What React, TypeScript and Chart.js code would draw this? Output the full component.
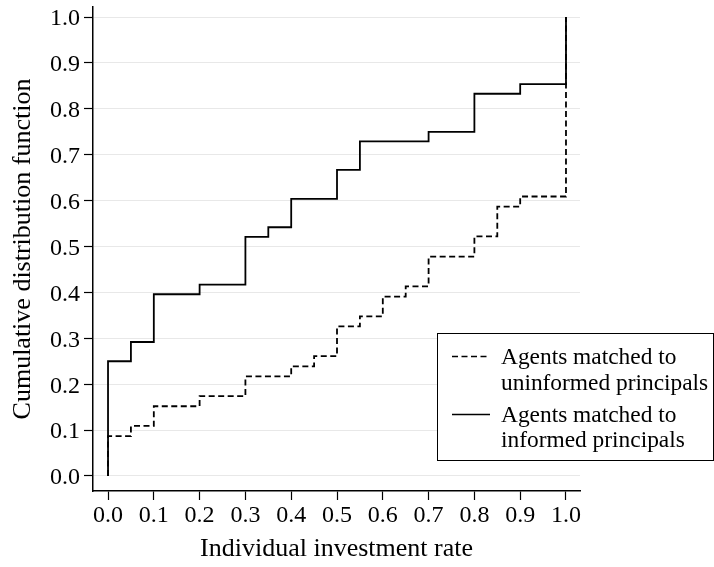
import React, { useEffect, useRef } from "react";
import { Chart, registerables } from "chart.js";

Chart.register(...registerables);

// Empirical CDF steps (investment rate -> cumulative share)
const uninformedX = [0, 0, 0.05, 0.1, 0.2, 0.3, 0.4, 0.45, 0.5, 0.55, 0.6, 0.65, 0.7, 0.8, 0.85, 0.9, 1.0];
const uninformedY = [0, 0.087, 0.109, 0.152, 0.174, 0.217, 0.239, 0.261, 0.326, 0.348, 0.391, 0.413, 0.478, 0.522, 0.587, 0.609, 1.0];

const informedX = [0, 0, 0.05, 0.1, 0.2, 0.3, 0.35, 0.4, 0.5, 0.55, 0.7, 0.8, 0.9, 1.0];
const informedY = [0, 0.25, 0.292, 0.396, 0.417, 0.521, 0.542, 0.604, 0.667, 0.729, 0.75, 0.833, 0.854, 1.0];

const xTickValues = [0, 0.1, 0.2, 0.3, 0.4, 0.5, 0.6, 0.7, 0.8, 0.9, 1.0];
const yTickValues = [0, 0.1, 0.2, 0.3, 0.4, 0.5, 0.6, 0.7, 0.8, 0.9, 1.0];

const seriesLabels = [
  ["Agents matched to", "uninformed principals"],
  ["Agents matched to", "informed principals"],
];

const xTitle = "Individual investment rate";
const yTitle = "Cumulative distribution function";

const FONT = '"Liberation Serif", "Times New Roman", serif';
const DASH = [6, 3.5];

const legendPlugin = {
  id: "boxLegend",
  afterDraw(chart: any) {
    const ctx = chart.ctx;
    ctx.save();
    const left = 437.5;
    const top = 333.5;
    const right = 713.5;
    const bottom = 460.5;
    ctx.fillStyle = "#fff";
    ctx.fillRect(left, top, right - left, bottom - top);
    ctx.strokeStyle = "#000";
    ctx.lineWidth = 1;
    ctx.strokeRect(left, top, right - left, bottom - top);

    const sampleX0 = 452;
    const sampleX1 = 490;
    const textX = 501;
    const entries = [
      { dash: DASH, lineY: 356.5, baselines: [364, 390] },
      { dash: [] as number[], lineY: 414.5, baselines: [421.5, 447] },
    ];
    entries.forEach((e, i) => {
      ctx.beginPath();
      ctx.setLineDash(e.dash);
      ctx.lineWidth = 1.5;
      ctx.strokeStyle = "#000";
      ctx.moveTo(sampleX0, e.lineY);
      ctx.lineTo(sampleX1, e.lineY);
      ctx.stroke();
      ctx.setLineDash([]);
      ctx.fillStyle = "#000";
      ctx.font = `23.4px ${FONT}`;
      ctx.textAlign = "left";
      ctx.textBaseline = "alphabetic";
      seriesLabels[i].forEach((t, j) => ctx.fillText(t, textX, e.baselines[j]));
    });
    ctx.restore();
  },
};

export default function App() {
  const canvasRef = useRef<HTMLCanvasElement | null>(null);

  useEffect(() => {
    const canvas = canvasRef.current;
    if (!canvas) return;
    const chart = new Chart(canvas, {
      type: "line",
      data: {
        datasets: [
          {
            label: "uninformed",
            data: uninformedX.map((x, i) => ({ x, y: uninformedY[i] })),
            borderColor: "#000",
            borderWidth: 1.8,
            borderDash: DASH,
            pointRadius: 0,
            stepped: "before",
            fill: false,
          },
          {
            label: "informed",
            data: informedX.map((x, i) => ({ x, y: informedY[i] })),
            borderColor: "#000",
            borderWidth: 1.8,
            pointRadius: 0,
            stepped: "before",
            fill: false,
          },
        ],
      },
      options: {
        responsive: false,
        animation: false,
        layout: { padding: { top: 7, right: 134, left: 0, bottom: 0 } },
        plugins: {
          legend: { display: false },
          tooltip: { enabled: false },
        },
        scales: {
          x: {
            type: "linear",
            min: -0.0328,
            max: 1.0306,
            afterBuildTicks: (scale: any) => {
              scale.ticks = xTickValues.map((v) => ({ value: v }));
            },
            afterFit: (scale: any) => {
              scale.height = 76;
              scale.paddingLeft = 0;
              scale.paddingRight = 0;
            },
            ticks: {
              callback: (v: any) => Number(v).toFixed(1),
              color: "#000",
              font: { family: FONT, size: 24 },
              padding: 1,
              maxRotation: 0,
              autoSkip: false,
            },
            grid: {
              drawOnChartArea: false,
              drawTicks: true,
              tickLength: 9,
              tickColor: "#000",
              tickWidth: 1.2,
            },
            border: { display: true, color: "#000", width: 1.5 },
            title: {
              display: true,
              text: xTitle,
              color: "#000",
              font: { family: FONT, size: 26 },
              padding: { top: 0, bottom: 2.5 },
            },
          },
          y: {
            type: "linear",
            min: -0.0327,
            max: 1.022,
            afterBuildTicks: (scale: any) => {
              scale.ticks = yTickValues.map((v) => ({ value: v }));
            },
            afterFit: (scale: any) => {
              scale.width = 93;
              scale.paddingTop = 0;
              scale.paddingBottom = 0;
            },
            ticks: {
              callback: (v: any) => Number(v).toFixed(1),
              color: "#000",
              font: { family: FONT, size: 24 },
              padding: 4,
              labelOffset: 2,
              autoSkip: false,
            },
            grid: {
              color: "#e8e8e8",
              lineWidth: 1,
              drawTicks: true,
              tickLength: 9,
              tickColor: "#000",
              tickWidth: 1.2,
            },
            border: { display: true, color: "#000", width: 1.5 },
            title: {
              display: true,
              text: yTitle,
              color: "#000",
              font: { family: FONT, size: 26 },
              padding: { top: 7.5, bottom: 0 },
            },
          },
        },
      },
      plugins: [legendPlugin],
    } as any);
    return () => chart.destroy();
  }, []);

  return (
    <div style={{ position: "absolute", left: 0, top: 0, width: 714, height: 567, background: "#fff" }}>
      <canvas ref={canvasRef} width={714} height={567} />
    </div>
  );
}
